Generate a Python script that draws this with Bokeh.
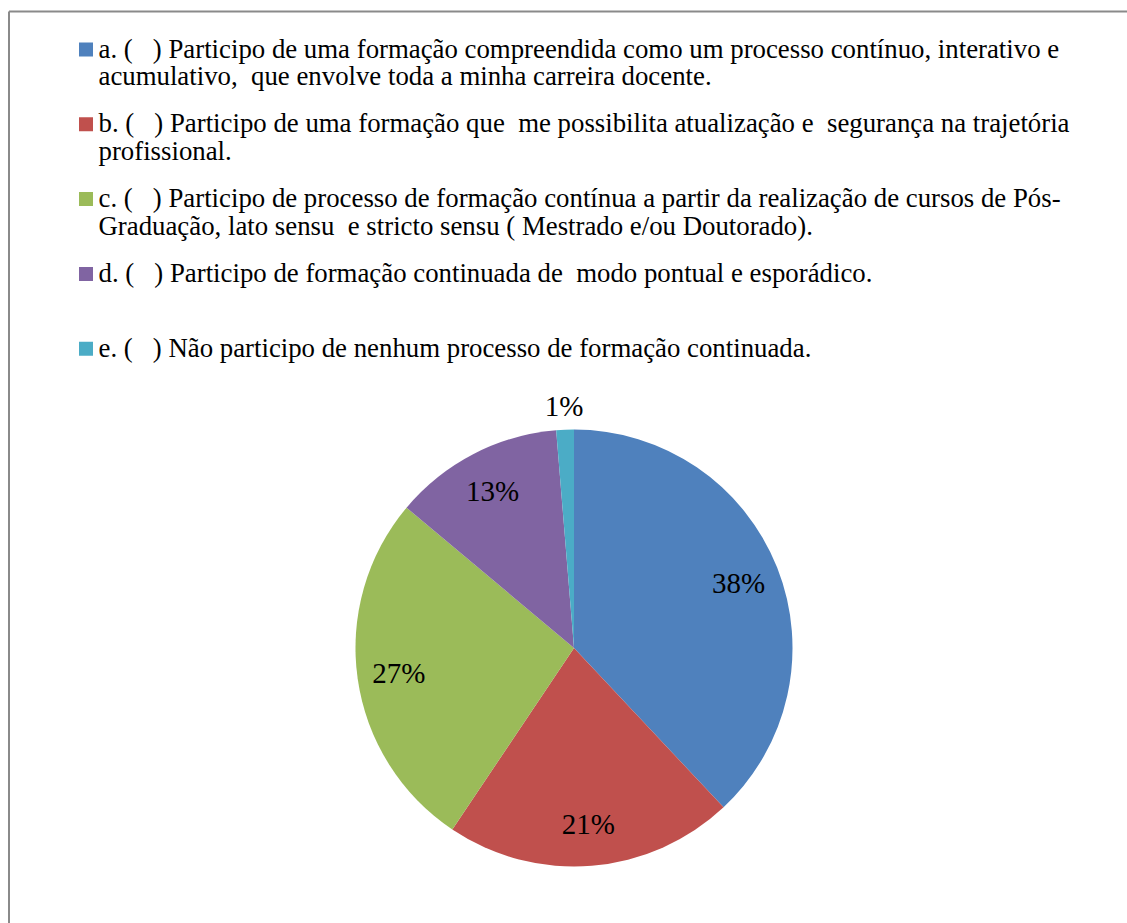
import math
from bokeh.plotting import figure
from bokeh.models import Range1d, ColumnDataSource
from bokeh.core.properties import value
from bokeh.embed import file_html
from bokeh.resources import INLINE

# ---------------- data ----------------
categories = ["a", "b", "c", "d", "e"]
shares = [38.0, 21.4, 26.7, 12.6, 1.3]          # slice sizes
pct_labels = ["38%", "21%", "27%", "13%", "1%"]
colors = ["#4F81BD", "#C0504D", "#9BBB59", "#8064A2", "#4BACC6"]
NB = "\u00a0"
legend_lines = [
    ["a. (" + NB * 3 + ") Participo de uma formação compreendida como um processo contínuo, interativo e",
     "acumulativo," + NB * 2 + "que envolve toda a minha carreira docente."],
    ["b. (" + NB * 3 + ") Participo de uma formação que" + NB * 2 + "me possibilita atualização e" + NB * 2 + "segurança na trajetória",
     "profissional."],
    ["c. (" + NB * 3 + ") Participo de processo de formação contínua a partir da realização de cursos de Pós-",
     "Graduação, lato sensu" + NB * 2 + "e stricto sensu ( Mestrado e/ou Doutorado)."],
    ["d. (" + NB * 3 + ") Participo de formação continuada de" + NB * 2 + "modo pontual e esporádico."],
    ["e. (" + NB * 3 + ") Não participo de nenhum processo de formação continuada."],
]

# ---------------- layout ----------------
W, H = 1127, 923
FONT = value("Liberation Serif")


def Y(py):
    return H - py


p = figure(width=W, height=H, output_backend="svg", toolbar_location=None,
           x_range=Range1d(0, W), y_range=Range1d(0, H), min_border=0,
           background_fill_color="white", border_fill_color="white")
p.axis.visible = False
p.grid.visible = False
p.outline_line_color = None

# frame (cropped chart border)
p.segment(x0=[8.5, 8.5], y0=[Y(11), Y(11)], x1=[8.5, W + 5], y1=[Y(H + 5), Y(11)],
          line_color="#8a8a8a", line_width=2)

# ---------------- pie ----------------
cx, cy, R = 573.5, Y(647.5), 218.5
total = sum(shares)
cum = 0.0
starts, ends, lx, ly = [], [], [], []
for v in shares:
    f0 = cum / total
    cum += v
    f1 = cum / total
    starts.append(math.pi / 2 - 2 * math.pi * f0)
    ends.append(math.pi / 2 - 2 * math.pi * f1)
    mid = math.pi / 2 - 2 * math.pi * (f0 + f1) / 2
    rf = 0.81 if v / total >= 0.05 else 1.11
    lx.append(cx + rf * R * math.cos(mid))
    ly.append(cy + rf * R * math.sin(mid))

src = ColumnDataSource(dict(cat=categories, start=starts, end=ends, color=colors,
                            lx=lx, ly=ly, lab=pct_labels))
p.wedge(x=cx, y=cy, radius=R, start_angle="start", end_angle="end", direction="clock",
        fill_color="color", line_color=None, source=src)
p.text(x="lx", y="ly", text="lab", source=src, text_font=FONT, text_font_size="29px",
       text_color="#000000", text_align="center", text_baseline="middle")

# ---------------- legend ----------------
row0, step, line_gap = 49, 74.8, 27.5
sq_x, txt_x = 85.5, 98
sq_x_list, sq_y_list = [], []
tx, ty, tt = [], [], []
for i, lines in enumerate(legend_lines):
    yc = row0 + i * step
    sq_x_list.append(sq_x)
    sq_y_list.append(Y(yc))
    for j, line in enumerate(lines):
        tx.append(txt_x)
        ty.append(Y(yc - 1.0 + j * line_gap))
        tt.append(line)

p.rect(x=sq_x_list, y=sq_y_list, width=14, height=14, width_units="screen",
       height_units="screen", fill_color=colors, line_color=None)
p.text(x=tx, y=ty, text=tt, text_font=FONT, text_font_size="26.8px", text_color="#000000",
       text_align="left", text_baseline="alphabetic")

open("out.html", "w").write(file_html(p, INLINE))
